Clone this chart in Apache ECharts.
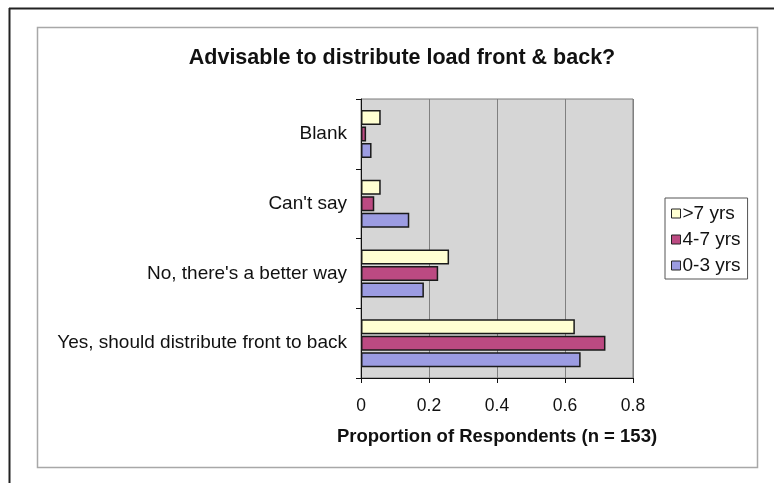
<!DOCTYPE html>
<html>
<head>
<meta charset="utf-8">
<script src="https://cdn.jsdelivr.net/npm/echarts@6/dist/echarts.min.js"></script>
<style>
  html, body { margin: 0; padding: 0; background: #ffffff; }
  #chart { width: 774px; height: 483px; }
</style>
</head>
<body>
<div id="chart"></div>
<script>
// Survey answers, bottom to top on the category axis
const categories = ['Yes, should distribute front to back', "No, there's a better way", "Can't say", 'Blank'];
const seriesNames = ['>7 yrs', '4-7 yrs', '0-3 yrs'];
const yrsOver7 = [0.629, 0.259, 0.058, 0.058];
const yrs4to7 = [0.719, 0.227, 0.039, 0.015];
const yrs0to3 = [0.646, 0.185, 0.142, 0.031];
const xTicks = [0, 0.2, 0.4, 0.6, 0.8];

const colors = ['#FFFFD2', '#BC4A82', '#9C9CE2'];
const values = [yrsOver7, yrs4to7, yrs0to3];

const chart = echarts.init(document.getElementById('chart'), null, { renderer: 'canvas' });
const font = 'Arial, "Liberation Sans", sans-serif';

chart.setOption({
  animation: false,
  backgroundColor: '#ffffff',
  textStyle: { fontFamily: font, color: '#000' },
  title: {
    text: 'Advisable to distribute load front & back?',
    left: 397,
    top: 42,
    textAlign: 'center',
    textStyle: { fontFamily: font, fontSize: 21.5, fontWeight: 'bold', color: '#111' }
  },
  graphic: [
    // outer frame edges
    { type: 'line', shape: { x1: 9, y1: 8.5, x2: 774, y2: 8.5 }, style: { stroke: '#222', lineWidth: 2 } },
    { type: 'line', shape: { x1: 9.5, y1: 8, x2: 9.5, y2: 483 }, style: { stroke: '#222', lineWidth: 2 } },
    // chart area frame
    { type: 'rect', shape: { x: 37.5, y: 27.5, width: 720, height: 440 }, style: { fill: 'none', stroke: '#a8a8a8', lineWidth: 1.5 }, z: -1 }
  ],
  legend: {
    data: ['>7 yrs', '4-7 yrs', '0-3 yrs'],
    orient: 'vertical',
    left: 665,
    top: 198,
    padding: [6, 7, 4, 6],
    itemWidth: 9,
    itemHeight: 9,
    itemGap: 7,
    icon: 'rect',
    backgroundColor: '#ffffff',
    borderColor: '#555',
    borderWidth: 1,
    textStyle: { fontFamily: font, fontSize: 19, color: '#111', padding: [0, 0, 0, -3] },
    itemStyle: { borderColor: '#222', borderWidth: 1 }
  },
  grid: {
    left: 361,
    right: 141,
    top: 99,
    bottom: 105,
    show: true,
    backgroundColor: '#D6D6D6',
    borderColor: '#7a7a7a',
    borderWidth: 1,
    containLabel: false
  },
  xAxis: {
    type: 'value',
    min: xTicks[0],
    max: xTicks[xTicks.length - 1],
    interval: 0.2,
    name: 'Proportion of Respondents (n = 153)',
    nameLocation: 'middle',
    nameGap: 49,
    nameTextStyle: { fontFamily: font, fontSize: 18.5, fontWeight: 'bold', color: '#111' },
    axisLine: { show: true, lineStyle: { color: '#111', width: 1 } },
    axisTick: { show: true, length: 5, lineStyle: { color: '#111' } },
    axisLabel: { margin: 19, fontFamily: font, fontSize: 17.5, color: '#111', formatter: v => String(+v.toFixed(1)) },
    splitLine: { show: true, lineStyle: { color: '#808080', width: 1 } }
  },
  yAxis: {
    type: 'category',
    data: categories,
    axisLine: { show: true, lineStyle: { color: '#111', width: 1 } },
    axisTick: { show: true, length: 5, lineStyle: { color: '#111' } },
    axisLabel: { margin: 14, fontFamily: font, fontSize: 19, color: '#111' },
    splitLine: { show: false }
  },
  series: seriesNames.map((name, i) => ({
    name: name,
    type: 'bar',
    data: values[i],
    barWidth: 15,
    barGap: '10%',
    itemStyle: { color: colors[i], borderColor: '#1a1a1a', borderWidth: 1.5 }
  }))
});
</script>
</body>
</html>
